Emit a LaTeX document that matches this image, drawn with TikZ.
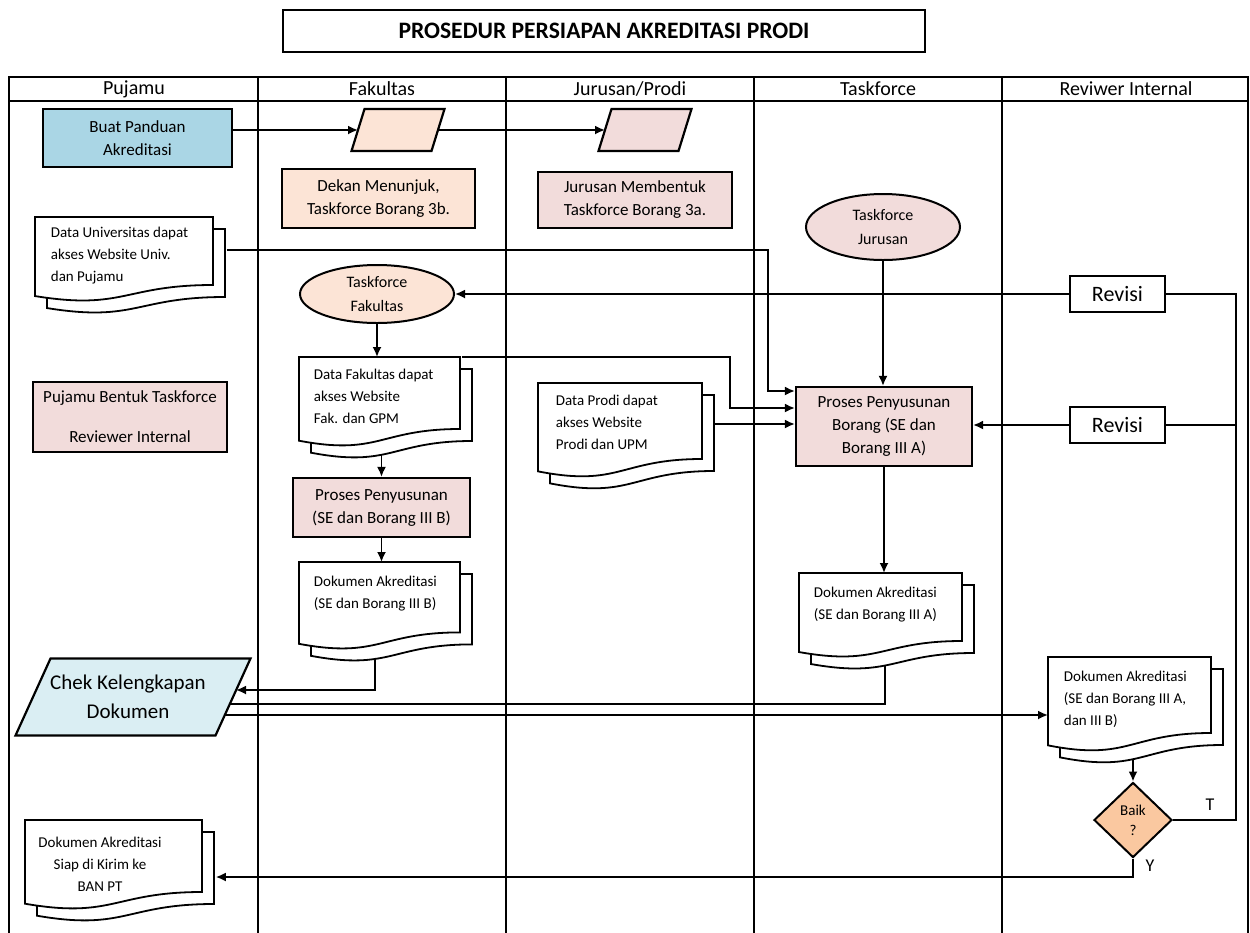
\documentclass[tikz,border=0pt]{standalone}
\usepackage{fontspec}
\setmainfont{Carlito}
\usetikzlibrary{shapes.geometric,arrows.meta,calc}
\definecolor{cblue}{RGB}{170,214,229}
\definecolor{cpeach}{RGB}{252,228,214}
\definecolor{cpink}{RGB}{242,220,219}
\definecolor{clblue}{RGB}{218,238,243}
\definecolor{corange}{RGB}{250,200,160}
% multi-document shape: name, xl, yt, xr, h
\newcommand{\mdoc}[5]{%
  \foreach \dd in {12,0}{%
    \draw[docline] ({#2+\dd},{#3+\dd}) -- ({#4+\dd},{#3+\dd}) -- ({#4+\dd},{#3+\dd+0.8*#5})
      .. controls ({(#2+#4)/2+\dd},{#3+\dd+0.8*#5}) and ({(#2+#4)/2+\dd},{#3+\dd+1.1*#5}) .. ({#2+\dd},{#3+\dd+0.93*#5}) -- cycle;
  }
  \node[inner sep=0pt, anchor=north west, minimum width={(#4-#2+12)*0.5pt}, minimum height={(0.93*#5+12)*0.5pt}] (#1) at (#2,#3) {};
}
% parallelogram: name, cx, cy, w, h, slant, fill
\newcommand{\pgram}[7]{%
  \filldraw[fill=#7, line width=1.1pt] ({#2-#4/2},{#3+#5/2}) -- ({#2-#4/2+#6},{#3-#5/2}) -- ({#2+#4/2},{#3-#5/2}) -- ({#2+#4/2-#6},{#3+#5/2}) -- cycle;
  \coordinate (#1-w) at ({#2-#4/2+#6/2},#3);
  \coordinate (#1-e) at ({#2+#4/2-#6/2},#3);
  \node[inner sep=0pt, minimum width={#4*0.5pt}, minimum height={#5*0.5pt}] (#1) at (#2,#3) {};
}
\begin{document}
\begin{tikzpicture}[x=0.5pt,y=-0.5pt,
  line width=0.9pt,
  body/.style={font=\fontsize{8.5}{11.5}\selectfont, align=center},
  docline/.style={draw=black, fill=white, line width=0.9pt},
  doctext/.style={font=\fontsize{7.5}{11}\selectfont, align=left, anchor=north west, inner sep=0pt},
  centext/.style={font=\fontsize{7.5}{11}\selectfont, align=center, inner sep=0pt},
  procbox/.style={draw, line width=1.1pt, body, inner sep=0pt},
  arr/.style={-{Latex[length=5pt,width=4.5pt]}},
  ell/.style={draw, ellipse, line width=1pt, inner sep=0pt, font=\fontsize{8}{12}\selectfont, align=center},
  hdr/.style={font=\fontsize{10}{12}\selectfont, inner sep=0pt},
  revbox/.style={draw, line width=1.1pt, inner sep=0pt, minimum width=47.5pt, minimum height=18pt, font=\fontsize{11}{13}\selectfont},
]
\useasboundingbox (0,0) rectangle (1250,933);

% title
\node[draw, line width=1pt, minimum width=321pt, minimum height=21pt, inner sep=0pt,
      font=\fontsize{11.8}{13}\selectfont\bfseries] (title) at (604,31) {PROSEDUR PERSIAPAN AKREDITASI PRODI};

% table
\draw[line width=1pt] (9,933) -- (9,77) -- (1248,77) -- (1248,933);
\draw[line width=1pt] (9,101) -- (1248,101);
\foreach \xx in {258,506,754,1002} {\draw[line width=1pt] (\xx,77) -- (\xx,933);}
\node[hdr] (h1) at (134,89) {Pujamu};
\node[hdr] (h2) at (382,89) {Fakultas};
\node[hdr] (h3) at (630,89) {Jurusan/Prodi};
\node[hdr] (h4) at (878,89) {Taskforce};
\node[hdr] (h5) at (1126,89) {Reviwer Internal};

% boxes
\node[procbox, fill=cblue, minimum width=94.5pt, minimum height=29pt] (b1) at (137.5,138) {Buat Panduan\\Akreditasi};
\pgram{p1}{398}{130}{93}{42}{13}{cpeach}
\pgram{p2}{645}{130}{93}{42}{13}{cpink}
\node[procbox, fill=cpeach, minimum width=96.5pt, minimum height=29.5pt] (fbox1) at (378.5,198.5) {Dekan Menunjuk,\\Taskforce Borang 3b.};
\node[procbox, fill=cpink, minimum width=97pt, minimum height=28pt] (jbox1) at (635,200) {Jurusan Membentuk\\Taskforce Borang 3a.};
\node[procbox, fill=cpink, minimum width=97pt, minimum height=35pt] (pbox2) at (130,417) {Pujamu Bentuk Taskforce\\[8.5pt]Reviewer Internal};
\node[ell, fill=cpeach, minimum width=77pt, minimum height=29pt] (fell) at (377,294) {Taskforce\\Fakultas};
\node[ell, fill=cpink, minimum width=77pt, minimum height=33pt] (tell) at (883,227) {Taskforce\\Jurusan};
\node[procbox, fill=cpink, minimum width=88pt, minimum height=39.5pt] (tbox) at (884,426.5) {Proses Penyusunan\\Borang (SE dan\\Borang III A)};
\node[procbox, fill=cpink, minimum width=88.5pt, minimum height=29.5pt] (fbox2) at (381.5,507.5) {Proses Penyusunan\\(SE dan Borang III B)};
\node[revbox] (rev1) at (1117.5,294) {Revisi};
\node[revbox] (rev2) at (1117.5,425) {Revisi};
\pgram{chek}{133}{697}{235}{77}{35}{clblue}
\node[font=\fontsize{10.5}{14.5}\selectfont, align=center, inner sep=0pt] (chekt) at (128,697) {Chek Kelengkapan\\Dokumen};
\node[draw, diamond, fill=corange, line width=1pt, inner sep=0pt, minimum width=39pt, minimum height=37.5pt, font=\fontsize{7.5}{10}\selectfont, align=center] (dm) at (1133,820) {Baik\\?};

% documents
\mdoc{pdoc1}{35}{217}{213}{85}
\node[doctext] (pdoc1t) at (50,226) {Data Universitas dapat\\akses Website Univ.\\dan Pujamu};
\mdoc{fdoc1}{299}{357}{460}{90}
\node[doctext] (fdoc1t) at (313,368) {Data Fakultas dapat\\akses Website\\Fak. dan GPM};
\mdoc{jdoc}{538}{383}{702}{95}
\node[doctext] (jdoct) at (555,394) {Data Prodi dapat\\akses Website\\Prodi dan UPM};
\mdoc{fdoc2}{299}{562}{460}{88}
\node[doctext] (fdoc2t) at (313,575) {Dokumen Akreditasi\\(SE dan Borang III B)};
\mdoc{tdoc}{799}{573}{962}{85}
\node[doctext] (tdoct) at (813,586) {Dokumen Akreditasi\\(SE dan Borang III A)};
\mdoc{rdoc}{1048}{657}{1211}{95}
\node[doctext] (rdoct) at (1063,670) {Dokumen Akreditasi\\(SE dan Borang III A,\\dan III B)};
\mdoc{pdoc2}{25}{820}{202}{90}
\node[centext, anchor=north] (pdoc2t) at (100,836) {Dokumen Akreditasi\\Siap di Kirim ke\\BAN PT};

% connectors
\draw[arr] (b1.east |- p1-w) -- (p1-w);
\draw[arr] (p1-e) -- (p2-w);
\coordinate (k1) at (768,250);
\coordinate (k1b) at (768,391);
\draw[arr] (pdoc1.east |- k1) -- (k1) -- (k1b) -- (k1b -| tbox.west);
\coordinate (k2) at (730,357);
\coordinate (k2b) at (730,408);
\draw[arr] ([xshift=-6pt]fdoc1.north east) -- (k2) -- (k2b) -- (k2b -| tbox.west);
\coordinate (k3) at (714,424);
\draw[arr] (k3) -- (k3 -| tbox.west);
\draw[arr] (tell.south) -- (tell.south |- tbox.north);
\draw[arr] (rev1.west) -- (fell.east);
\draw[arr] (rev2.west) -- (rev2.west -| tbox.east);
\draw[arr] (fell.south) -- (fell.south |- fdoc1.north);
\draw[arr] (fdoc1.south -| fbox2.north) -- (fbox2.north);
\draw[arr] (fbox2.south) -- (fbox2.south |- fdoc2.north);
\draw[arr] (tbox.south) -- (tbox.south |- tdoc.north);
\coordinate (k4) at (375,690);
\coordinate (k4e) at (236,690);
\draw[arr] (fdoc2.south -| k4) -- (k4) -- (k4e);
\coordinate (k5) at (885,704);
\coordinate (k5e) at (230,704);
\draw (tdoc.south -| k5) -- (k5) -- (k5e);
\coordinate (k6) at (225,715);
\draw[arr] (k6) -- (k6 -| rdoc.west);
\draw[arr] (rdoc.south -| dm.north) -- (dm.north);
\coordinate (k7) at (1236,820);
\coordinate (k7t) at (1236,294);
\draw (dm.east) -- (k7) -- (k7t) -- (rev1.east);
\draw (k7 |- rev2.east) -- (rev2.east);
\coordinate (k8) at (1133,877);
\draw[arr] (dm.south) -- (k8) -- (k8 -| pdoc2.east);
\node[font=\fontsize{9}{10}\selectfont] (tl) at (1210,805) {T};
\node[font=\fontsize{9}{10}\selectfont] (yl) at (1150,866) {Y};
\end{tikzpicture}
\end{document}
